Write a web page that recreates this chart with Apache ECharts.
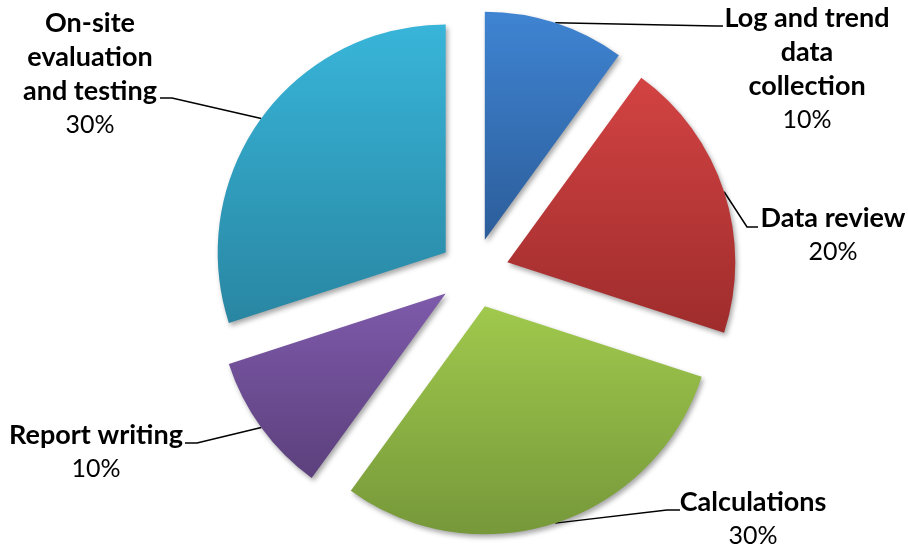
<!DOCTYPE html>
<html><head><meta charset="utf-8">
<script src="https://cdn.jsdelivr.net/npm/echarts@6/dist/echarts.min.js"></script>
<style>html,body{margin:0;padding:0;background:#fff}#c{width:908px;height:550px}</style>
</head><body><div id="c"></div>
<script>
// ---- data ----
const categories = ['Log and trend\ndata\ncollection', 'Data review', 'Calculations', 'Report writing', 'On-site\nevaluation\nand testing'];
const shares = [10, 20, 30, 10, 30];

// ---- styles / layout ----
const PIE_CENTER = [474, 273];
const PIE_RADIUS = 228;
const EXPLODE = 35;
const sliceColors = [
  ['#3f84d2', '#2c5d9a'],
  ['#d34343', '#9f2c2c'],
  ['#a0c94d', '#76983a'],
  ['#7e5aab', '#5c407c'],
  ['#38b5d9', '#2986a2']
];
// label centre x, top y, leader bend and end
const labelBoxes = [
  { x: 807, y: 1,   bend: [716, 26],  end: [723, 26] },
  { x: 833, y: 201, bend: [747, 227], end: [758, 227] },
  { x: 753, y: 485, bend: [667, 510], end: [680, 510] },
  { x: 96,  y: 418, bend: [197, 443], end: [185, 443] },
  { x: 90,  y: 6,   bend: [172, 98],  end: [160, 98] }
];

const chart = echarts.init(document.getElementById('c'), null, { renderer: 'canvas' });

const sliceData = categories.map((name, i) => ({
  name: name,
  value: shares[i],
  selected: true,
  itemStyle: {
    color: new echarts.graphic.LinearGradient(0, 0, 0, 1, [
      { offset: 0, color: sliceColors[i][0] },
      { offset: 1, color: sliceColors[i][1] }
    ])
  }
}));
const labelData = categories.map((name, i) => ({ name: name, value: shares[i] }));

chart.setOption({
  animation: false,
  backgroundColor: '#ffffff',
  series: [{
    // exploded slices
    type: 'pie',
    center: PIE_CENTER,
    radius: [0, PIE_RADIUS],
    startAngle: 90,
    clockwise: true,
    selectedMode: 'multiple',
    selectedOffset: EXPLODE,
    silent: true,
    emphasis: { disabled: true },
    label: { show: false },
    labelLine: { show: false },
    itemStyle: {
      shadowBlur: 5,
      shadowColor: 'rgba(0,0,0,0.35)',
      shadowOffsetX: 2,
      shadowOffsetY: 3
    },
    data: sliceData
  }, {
    // label carrier: same data, radius reaching the exploded slices' outer edge
    type: 'pie',
    center: PIE_CENTER,
    radius: [0, PIE_RADIUS + EXPLODE],
    startAngle: 90,
    clockwise: true,
    silent: true,
    avoidLabelOverlap: false,
    emphasis: { disabled: true },
    itemStyle: { color: 'rgba(0,0,0,0)' },
    label: {
      show: true,
      position: 'outside',
      align: 'center',
      formatter: p => '{b|' + p.name + '}\n{p|' + Math.round(p.percent) + '%}',
      rich: {
        b: { fontFamily: 'Lato', fontWeight: 'bold', fontSize: 27, lineHeight: 34, color: '#000', align: 'center' },
        p: { fontFamily: 'Lato', fontWeight: 'normal', fontSize: 25, lineHeight: 34, color: '#000', align: 'center' }
      }
    },
    labelLine: {
      show: true,
      length: 10,
      length2: 10,
      lineStyle: { color: '#000', width: 1.5 }
    },
    labelLayout: function (p) {
      const b = labelBoxes[p.dataIndex];
      const out = { x: b.x, y: b.y, align: 'center', verticalAlign: 'top' };
      if (p.labelLinePoints) {
        out.labelLinePoints = [p.labelLinePoints[0], b.bend, b.end];
      }
      return out;
    },
    data: labelData
  }]
});
</script>
</body></html>
